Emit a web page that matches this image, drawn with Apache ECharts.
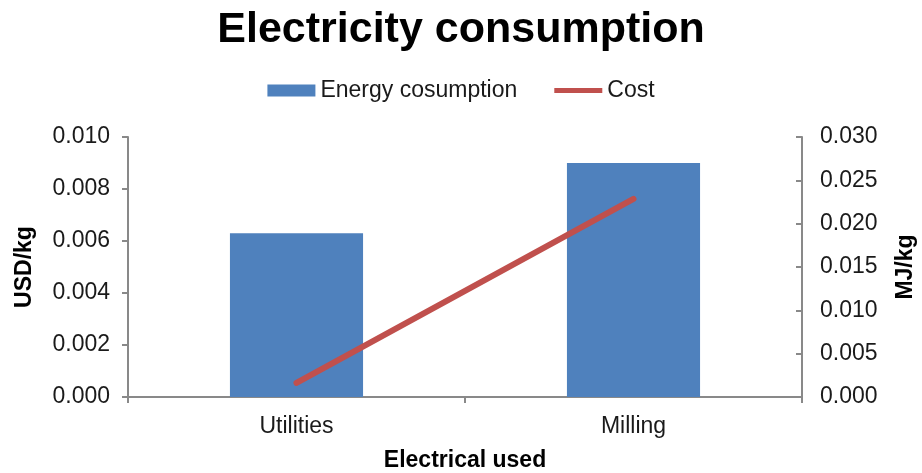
<!DOCTYPE html>
<html>
<head>
<meta charset="utf-8">
<script src="https://cdn.jsdelivr.net/npm/echarts@6/dist/echarts.min.js"></script>
<style>
    html, body { margin: 0; padding: 0; background: #fff; }
    #main { width: 922px; height: 473px; }
</style>
</head>
<body>
<div id="main"></div>
<script>
// data
const categories = ['Utilities', 'Milling'];
const energyValues = [0.0189, 0.0270];   // MJ/kg, right axis
const costValues = [0.00054, 0.00762];   // USD/kg, left axis
const leftTicks = { min: 0, max: 0.010, interval: 0.002 };
const rightTicks = { min: 0, max: 0.030, interval: 0.005 };

const font = 'Liberation Sans, Arial, sans-serif';
const axisGrey = '#898989';
const labelColor = '#1a1a1a';

let chart = echarts.init(document.getElementById('main'));

const option = {
    textStyle: { fontFamily: font },
    title: {
        text: 'Electricity consumption',
        left: 'center',
        top: 4,
        textStyle: { fontSize: 43, fontWeight: 'bold', color: '#000', fontFamily: font }
    },
    legend: {
        top: 74,
        left: 'center',
        itemGap: 37,
        itemWidth: 48,
        itemHeight: 12,
        textStyle: { fontSize: 23, color: labelColor, fontFamily: font },
        data: [
            { name: 'Energy cosumption', icon: 'rect' },
            { name: 'Cost', icon: 'path://M0,0 L10,0 L10,1 L0,1 Z' }
        ]
    },
    // keep the plot box where the picture has it
    grid: { left: 128, right: 120, top: 137, bottom: 76, outerBoundsMode: 'none' },
    xAxis: {
        type: 'category',
        data: categories,
        name: 'Electrical used',
        nameLocation: 'middle',
        nameGap: 52,
        nameTextStyle: { fontSize: 23, fontWeight: 'bold', color: '#000' },
        axisLine: { lineStyle: { color: axisGrey, width: 2 } },
        axisTick: { show: true, length: 6, lineStyle: { color: axisGrey, width: 2 } },
        axisLabel: { fontSize: 23, color: labelColor, margin: 18 }
    },
    yAxis: [
        {
            type: 'value',
            position: 'left',
            min: leftTicks.min, max: leftTicks.max, interval: leftTicks.interval,
            name: 'USD/kg',
            nameLocation: 'middle',
            nameRotate: 90,
            nameGap: 92,
            nameTextStyle: { fontSize: 23, fontWeight: 'bold', color: '#000' },
            axisLine: { show: true, lineStyle: { color: axisGrey, width: 2 } },
            axisTick: { show: true, length: 6, lineStyle: { color: axisGrey, width: 2 } },
            axisLabel: { fontSize: 23, color: labelColor, margin: 18, formatter: v => v.toFixed(3) },
            splitLine: { show: false }
        },
        {
            type: 'value',
            position: 'right',
            min: rightTicks.min, max: rightTicks.max, interval: rightTicks.interval,
            name: 'MJ/kg',
            nameLocation: 'middle',
            nameRotate: 90,
            nameGap: 92,
            nameTextStyle: { fontSize: 23, fontWeight: 'bold', color: '#000' },
            axisLine: { show: true, lineStyle: { color: axisGrey, width: 2 } },
            axisTick: { show: true, inside: true, length: 6, lineStyle: { color: axisGrey, width: 2 } },
            axisLabel: { fontSize: 23, color: labelColor, margin: 18, formatter: v => v.toFixed(3) },
            splitLine: { show: false }
        }
    ],
    series: [
        {
            name: 'Energy cosumption',
            type: 'bar',
            yAxisIndex: 1,
            barWidth: '39.5%',
            itemStyle: { color: '#4f81bd' },
            data: energyValues
        },
        {
            name: 'Cost',
            type: 'line',
            yAxisIndex: 0,
            symbol: 'none',
            lineStyle: { color: '#c0504d', width: 6, cap: 'round' },
            itemStyle: { color: '#c0504d' },
            data: costValues
        }
    ]
};

chart.setOption(option);
</script>
</body>
</html>
